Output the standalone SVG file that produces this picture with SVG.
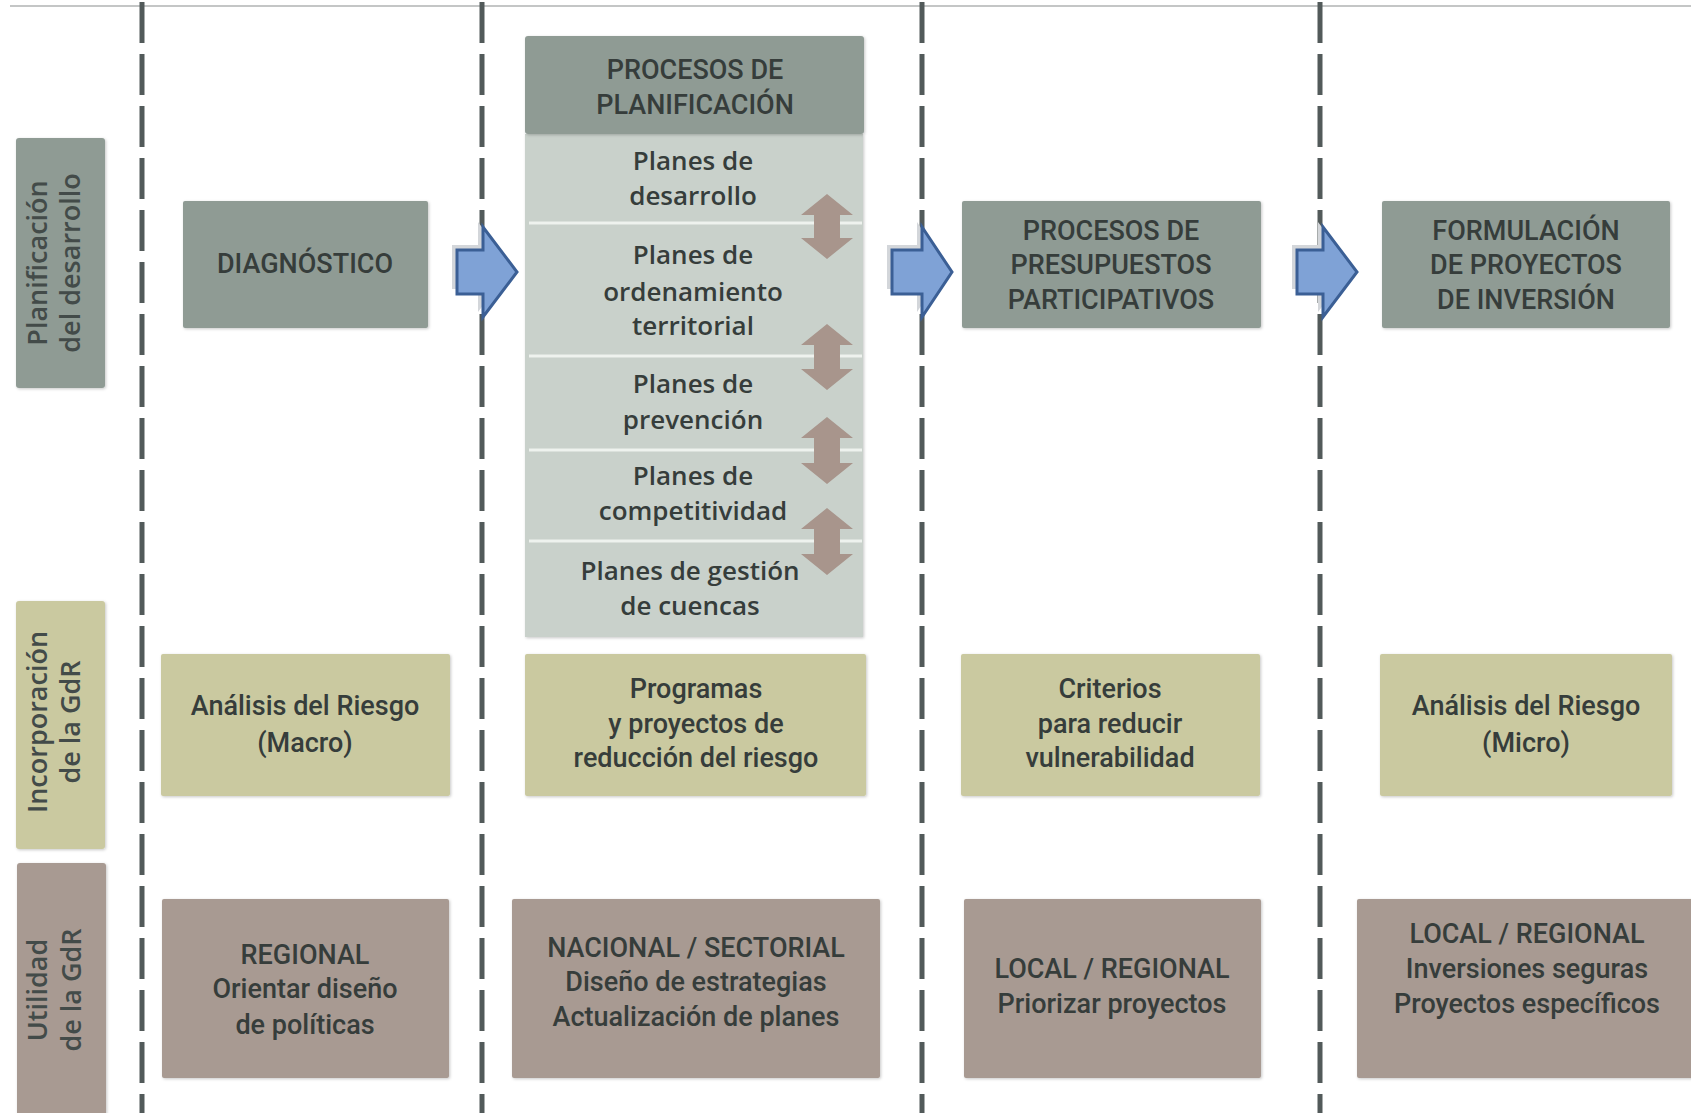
<svg xmlns="http://www.w3.org/2000/svg" width="1691" height="1113" viewBox="0 0 1691 1113">
<defs>
<style>
.dark{fill:#8f9b94}
.light{fill:#c9d1cb}
.tan{fill:#cac9a0}
.brown{fill:#a89a92}
.box{filter:url(#sh)}
.t{font-family:Roboto,"Liberation Sans",sans-serif;font-size:27px;font-weight:500;fill:#363d3b;text-anchor:middle}
.p{font-family:"Open Sans","Noto Sans",sans-serif;font-size:26px;font-weight:600;fill:#363d3b;text-anchor:middle}
.s{font-family:"Open Sans","Noto Sans",sans-serif;font-size:27px;font-weight:600;fill:#434b49;text-anchor:middle}
.div{stroke:#525a5a;stroke-width:5;stroke-dasharray:41 11;fill:none}
.sep{stroke:#eef2ee;stroke-width:3}
.blue{fill:#7fa2d6;stroke:#3b5f95;stroke-width:3;stroke-linejoin:miter}
.bsh{fill:#d3d6da}
.dbl{fill:#a8958c}
</style>
<filter id="sh" x="-5%" y="-5%" width="110%" height="110%">
<feDropShadow dx="1" dy="1" stdDeviation="1.5" flood-color="#000" flood-opacity="0.22"/>
</filter>
</defs>
<rect width="1691" height="1113" fill="#ffffff"/>
<line x1="10" y1="6" x2="1691" y2="6" stroke="#c4c6c6" stroke-width="2"/>

<g id="dividers">
<line class="div" x1="142" y1="2" x2="142" y2="1113"/>
<line class="div" x1="482" y1="2" x2="482" y2="1113"/>
<line class="div" x1="922" y1="2" x2="922" y2="1113"/>
<line class="div" x1="1320" y1="2" x2="1320" y2="1113"/>
</g>

<g id="label-planificacion">
<rect class="dark box" x="16" y="138" width="89" height="250" rx="3"/>
<g transform="translate(60,263) rotate(-90)">
<text class="s" x="0" y="-13">Planificación</text>
<text class="s" x="0" y="20">del desarrollo</text>
</g>
</g>
<g id="label-incorporacion">
<rect class="tan box" x="16" y="601" width="89" height="248" rx="3"/>
<g transform="translate(60,722) rotate(-90)">
<text class="s" x="0" y="-13">Incorporación</text>
<text class="s" x="0" y="20">de la GdR</text>
</g>
</g>
<g id="label-utilidad">
<rect class="brown box" x="17" y="863" width="89" height="260" rx="3"/>
<g transform="translate(60,990) rotate(-90)">
<text class="s" x="0" y="-13">Utilidad</text>
<text class="s" x="0" y="21">de la GdR</text>
</g>
</g>

<g id="diagnostico">
<rect class="dark box" x="183" y="201" width="245" height="127" rx="2"/>
<text class="t" x="305" y="273">DIAGNÓSTICO</text>
</g>

<g id="procesos-planificacion">
<rect class="light box" x="525" y="134" width="338" height="503"/>
<rect class="dark box" x="525" y="36" width="339" height="98" rx="3"/>
<text class="t" x="695" y="79">PROCESOS DE</text>
<text class="t" x="695" y="114">PLANIFICACIÓN</text>
<line class="sep" x1="529" y1="223" x2="862" y2="223"/>
<line class="sep" x1="529" y1="356" x2="862" y2="356"/>
<line class="sep" x1="529" y1="450" x2="862" y2="450"/>
<line class="sep" x1="529" y1="541" x2="862" y2="541"/>
<text class="p" x="693" y="170">Planes de</text>
<text class="p" x="693" y="205">desarrollo</text>
<text class="p" x="693" y="264">Planes de</text>
<text class="p" x="693" y="301">ordenamiento</text>
<text class="p" x="693" y="335">territorial</text>
<text class="p" x="693" y="393">Planes de</text>
<text class="p" x="693" y="429">prevención</text>
<text class="p" x="693" y="485">Planes de</text>
<text class="p" x="693" y="520">competitividad</text>
<text class="p" x="690" y="580">Planes de gestión</text>
<text class="p" x="690" y="615">de cuencas</text>
</g>

<g id="presupuestos">
<rect class="dark box" x="962" y="201" width="299" height="127" rx="2"/>
<text class="t" x="1111" y="240">PROCESOS DE</text>
<text class="t" x="1111" y="274">PRESUPUESTOS</text>
<text class="t" x="1111" y="309">PARTICIPATIVOS</text>
</g>

<g id="formulacion">
<rect class="dark box" x="1382" y="201" width="288" height="127" rx="2"/>
<text class="t" x="1526" y="240">FORMULACIÓN</text>
<text class="t" x="1526" y="274">DE PROYECTOS</text>
<text class="t" x="1526" y="309">DE INVERSIÓN</text>
</g>

<g id="analisis-macro">
<rect class="tan box" x="161" y="654" width="289" height="142" rx="2"/>
<text class="t" x="305" y="715">Análisis del Riesgo</text>
<text class="t" x="305" y="752">(Macro)</text>
</g>
<g id="programas">
<rect class="tan box" x="525" y="654" width="341" height="142" rx="2"/>
<text class="t" x="696" y="698">Programas</text>
<text class="t" x="696" y="733">y proyectos de</text>
<text class="t" x="696" y="767">reducción del riesgo</text>
</g>
<g id="criterios">
<rect class="tan box" x="961" y="654" width="299" height="142" rx="2"/>
<text class="t" x="1110" y="698">Criterios</text>
<text class="t" x="1110" y="733">para reducir</text>
<text class="t" x="1110" y="767">vulnerabilidad</text>
</g>
<g id="analisis-micro">
<rect class="tan box" x="1380" y="654" width="292" height="142" rx="2"/>
<text class="t" x="1526" y="715">Análisis del Riesgo</text>
<text class="t" x="1526" y="752">(Micro)</text>
</g>

<g id="regional">
<rect class="brown box" x="162" y="899" width="287" height="179" rx="2"/>
<text class="t" x="305" y="964">REGIONAL</text>
<text class="t" x="305" y="998">Orientar diseño</text>
<text class="t" x="305" y="1034">de políticas</text>
</g>
<g id="nacional">
<rect class="brown box" x="512" y="899" width="368" height="179" rx="2"/>
<text class="t" x="696" y="957">NACIONAL / SECTORIAL</text>
<text class="t" x="696" y="991">Diseño de estrategias</text>
<text class="t" x="696" y="1026">Actualización de planes</text>
</g>
<g id="local-regional-1">
<rect class="brown box" x="964" y="899" width="297" height="179" rx="2"/>
<text class="t" x="1112" y="978">LOCAL / REGIONAL</text>
<text class="t" x="1112" y="1013">Priorizar proyectos</text>
</g>
<g id="local-regional-2">
<rect class="brown box" x="1357" y="899" width="340" height="179" rx="2"/>
<text class="t" x="1527" y="943">LOCAL / REGIONAL</text>
<text class="t" x="1527" y="978">Inversiones seguras</text>
<text class="t" x="1527" y="1013">Proyectos específicos</text>
</g>

<g id="connectors">
<path class="bsh" d="M452,245 L478,245 L478,222 L512,267 L478,312 L478,289 L452,289 Z"/>
<path class="blue" d="M457,250 L483,250 L483,227 L517,272 L483,317 L483,294 L457,294 Z"/>
<path class="bsh" d="M887,245 L917,245 L917,222 L947,267 L917,312 L917,289 L887,289 Z"/>
<path class="blue" d="M892,250 L922,250 L922,227 L952,272 L922,317 L922,294 L892,294 Z"/>
<path class="bsh" d="M1292,245 L1318,245 L1318,222 L1352,267 L1318,312 L1318,289 L1292,289 Z"/>
<path class="blue" d="M1297,250 L1323,250 L1323,227 L1357,272 L1323,317 L1323,294 L1297,294 Z"/>
<path class="dbl" d="M827,194 L853,215 L840,215 L840,238 L853,238 L827,259 L801,238 L814,238 L814,215 L801,215 Z"/>
<path class="dbl" d="M827,324 L853,345 L840,345 L840,369 L853,369 L827,390 L801,369 L814,369 L814,345 L801,345 Z"/>
<path class="dbl" d="M827,417 L853,438 L840,438 L840,463 L853,463 L827,484 L801,463 L814,463 L814,438 L801,438 Z"/>
<path class="dbl" d="M827,508 L853,529 L840,529 L840,554 L853,554 L827,575 L801,554 L814,554 L814,529 L801,529 Z"/>
</g>
</svg>
